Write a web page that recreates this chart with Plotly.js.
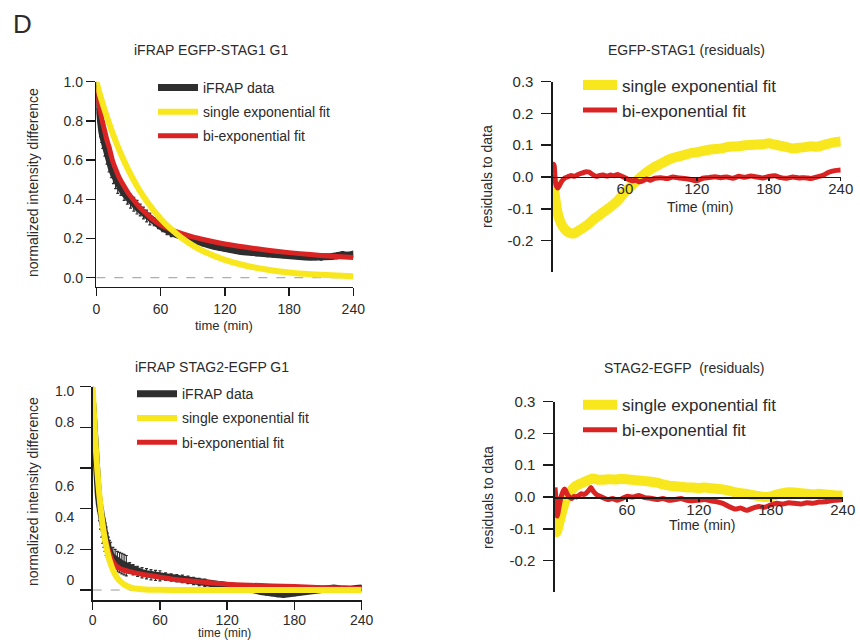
<!DOCTYPE html>
<html>
<head>
<meta charset="utf-8">
<script src="https://cdn.plot.ly/plotly-3.0.1.min.js"></script>
<style>html,body{margin:0;padding:0;background:#fff;}#chart{width:860px;height:642px;}</style>
</head>
<body>
<div id="chart"></div>
<script>
// ---------- Panel A: iFRAP EGFP-STAG1 G1 ----------
var s1DataT = [0,1,2,3,4,5,6, 8,10,12,14,16,18,20, 23,26,29,32,35,38,41,44,47,50, 54,58,62,66,70,
  75,80,85,90,95,100,105,110,115,120,125,130,135,140,145,150,155,160,165,170,175,180,185,190,195,200,205,210,215,220,225,230,235,240];
var s1DataY = [0.98,0.92,0.86,0.82,0.78,0.75,0.72, 0.67,0.63,0.59,0.56,0.53,0.505,0.48,
  0.455,0.43,0.41,0.39,0.375,0.36,0.345,0.33,0.315,0.30, 0.285,0.27,0.255,0.24,0.23,
  0.22,0.21,0.20,
  0.19,0.182,0.174,0.167,0.16,0.153,0.147,0.142,0.138,0.134,0.131,0.128,0.125,0.123,0.12,0.118,0.116,0.114,0.112,0.11,0.108,0.106,0.105,
  0.104,0.102,0.105,0.108,0.112,0.118,0.114,0.12];
var s1DataErr = [0.06,0.06,0.06,0.06,0.06,0.06,0.06, 0.05,0.05,0.05,0.05,0.05,0.05,0.05,
  0.035,0.035,0.035,0.035,0.035,0.035,0.03,0.03,0.03,0.03, 0.02,0.02,0.02,0.02,0.02,
  0.012,0.012,0.012,0.012,0.012,0.012,0.012,0.012,0.012,0.012,0.012,0.012,0.012,0.012,0.012,
  0.012,0.012,0.012,0.012,0.012,0.012,0.012,0.012,0.012,0.012,0.012,0.012,0.012,0.012,0.012,
  0.015,0.015,0.015,0.015];
var s1SingleT = [0,5,10,15,20,25,30,40,50,60,70,80,90,100,120,140,160,180,200,220,240];
var s1SingleY = [1.0,0.905,0.819,0.741,0.670,0.607,0.549,0.449,0.368,0.301,0.247,0.202,0.165,0.135,0.091,0.061,0.041,0.027,0.018,0.012,0.008];
var s1BiT = [0,2,4,6,8,10,12,15,18,21,25,30,35,40,45,50,60,70,80,90,100,120,140,160,180,200,220,240];
var s1BiY = [0.97,0.9,0.84,0.79,0.745,0.70,0.665,0.60,0.555,0.515,0.475,0.43,0.395,0.362,0.335,0.31,0.27,0.245,0.225,0.208,0.195,0.172,0.155,0.14,0.128,0.118,0.11,0.103];

// ---------- Panel B: EGFP-STAG1 residuals ----------
var r1SingleT = [0,1,2,3,4, 6,8,10,12,14,16,18,20, 23,26,29,32,35,38,41,44,47,50,53,56,59,62,65,68,71,74,77,80,
  84,88,92,96,100, 105,110,115,120,125,130,135,140,145,150,155,160,165,170,175,180,185,190,195,200,205,210,215,220,225,230,235,240];
var r1SingleY = [0.0,-0.04,-0.07,-0.095,-0.115, -0.14,-0.155,-0.165,-0.172,-0.176,-0.178,-0.177,-0.172,
  -0.165,-0.158,-0.15,-0.14,-0.13,-0.122,-0.113,-0.105,-0.097,-0.088,-0.078,-0.066,-0.052,-0.04,-0.03,-0.018,-0.008,0.002,0.012,0.02,
  0.03,0.038,0.046,0.054,0.06,
  0.065,0.07,0.075,0.078,0.082,0.086,0.088,0.09,0.094,0.096,0.097,0.1,0.101,0.102,0.103,0.106,0.102,0.098,0.094,0.09,0.092,0.094,0.097,0.095,0.1,0.105,0.11,0.112];
var r1BiT = [0,0.5,1,1.5,2,3,4,5,6, 8,10,12, 15,18,21,24,27,30,33,36,39,42,45,48,51,54,57,60,63,66,69,72,75,78,81, 85,
  90,95,100,105,110,115,120,125,130,135,140,145,150,155,160,165,170,175,180,185,190,195,200,205,210,215,220,225,230,235,240];
var r1BiY = [0.01,0.04,0.035,0.01,-0.015,-0.03,-0.035,-0.03,-0.022, -0.01,-0.003,0.0,
  0.005,0.002,0.008,0.012,0.016,0.015,0.008,0.002,0.005,0.006,0.003,0.006,0.004,0.008,0.003,-0.002,-0.008,-0.012,-0.01,-0.015,-0.012,-0.006,-0.01, -0.004,
  -0.002,-0.005,0.0,-0.003,-0.005,-0.008,-0.012,-0.004,-0.002,0.001,-0.002,0.0,-0.004,0.002,-0.001,0.003,0.0,-0.003,0.002,0.004,-0.002,-0.004,0.0,-0.003,-0.002,-0.005,0.0,0.005,0.015,0.02,0.022];

// ---------- Panel C: iFRAP STAG2-EGFP G1 ----------
var s2DataT = [0,1,2,3,4,5,6,7,8,9,10,11,12,13,14,15,16, 18,20,22,24,26,28,30, 33,36,40,44,48,52,56,60,
  65,70,75,80,85,90,95,100, 105,110,115,120,125,130,135,140,145,150,155,160,165,170,175,180,185,190,195,200,205,210,215,220,225,230,235,240];
var s2DataY = [0.92,0.8,0.7,0.6,0.53,0.47,0.42,0.38,0.34,0.31,0.28,0.26,0.24,0.22,0.2,0.185,0.175,
  0.16,0.15,0.14,0.135,0.13,0.125,0.12, 0.11,0.1,0.092,0.085,0.08,0.075,0.072,0.07,
  0.066,0.062,0.058,0.055,0.05,0.045,0.04,0.036,
  0.032,0.03,0.028,0.025,0.022,0.018,0.012,0.006,0.0,-0.008,-0.012,-0.015,-0.02,-0.022,-0.018,-0.015,-0.01,-0.005,0.0,0.002,0.005,0.008,0.01,0.006,0.002,0.004,0.008,0.01];
var s2DataErr = [0.08,0.08,0.08,0.08,0.08,0.08,0.08,0.08,0.08,0.08,0.07,0.07,0.07,0.06,0.06,0.06,0.06,
  0.05,0.05,0.05,0.05,0.05,0.05,0.05, 0.025,0.025,0.025,0.025,0.025,0.025,0.025,0.025,
  0.018,0.018,0.018,0.018,0.018,0.018,0.018,0.018,
  0.012,0.012,0.012,0.012,0.012,0.012,0.012,0.012,0.012,0.012,0.012,0.012,0.012,0.012,0.012,0.012,0.012,0.012,0.012,0.012,0.012,0.012,0.012,0.012,0.012,0.012,0.012,0.012];
var s2SingleT = [0,1,2,3,4,5,6,7,8,9,10,12,14,16,18,20,23,26,30,35,40,50,60,80,100,120,140,160,180,200,220,240];
var s2SingleY = [1.0,0.88,0.774,0.68,0.599,0.527,0.463,0.408,0.359,0.315,0.277,0.215,0.166,0.129,0.099,0.077,0.052,0.036,0.021,0.011,0.006,0.002,0.001,0,0,0,0,0,0,0,0,0];
var s2BiT = [0,1,2,3,4,5,6,7,8,9,10,12,14,16,18,20,23,26,30,35,40,50,60,70,80,100,120,140,160,180,200,220,240];
var s2BiY = [0.98,0.87,0.76,0.67,0.59,0.52,0.46,0.41,0.365,0.325,0.29,0.235,0.195,0.165,0.14,0.125,0.11,0.102,0.095,0.088,0.082,0.072,0.063,0.055,0.048,0.038,0.029,0.024,0.02,0.017,0.013,0.01,0.008];

// ---------- Panel D: STAG2-EGFP residuals ----------
var r2SingleT = [0,0.5,1,1.5,2, 3,4,5,6,7,8, 10,12,14,16,18,20, 23,26,29,32,35,
  40,45,50,55,60,65,70,75,80,85,90,95,100,105,110,115,120,125,130,135,140,145,150,155,160,165,170,175,180,185,190,195,200,205,210,215,220,225,230,235,240];
var r2SingleY = [0.0,-0.05,-0.09,-0.11,-0.105, -0.09,-0.075,-0.06,-0.045,-0.032,-0.02, 0.0,0.012,0.022,0.03,0.036,0.04, 0.045,0.05,0.055,0.058,0.055,
  0.054,0.056,0.055,0.057,0.056,0.054,0.052,0.05,0.048,0.045,0.04,0.036,0.034,0.032,0.03,0.03,0.028,0.03,0.028,0.026,0.024,0.02,0.015,0.012,0.01,0.006,0.003,0.0,0.002,0.008,0.012,0.015,0.014,0.012,0.01,0.008,0.01,0.008,0.006,0.005,0.005];
var r2BiT = [0,0.5,1,1.5,2, 3,4,5,6,7,8,9,10, 12,14,16,18,20,22,24,26,28,30,32,34,36, 40,44,48,52,56,60,
  65,70,75,80,85,90,95,100,105,110,115,120,125,130,135,140,145,150,155,160,165,170,175,180,185,190,195,200,205,210,215,220,225,230,235,240];
var r2BiY = [0.03,0.01,-0.03,-0.055,-0.06, -0.04,-0.02,0.0,0.01,0.02,0.025,0.02,0.01,
  0.0,-0.005,0.002,0.0,0.005,0.01,0.008,0.012,0.02,0.03,0.018,0.01,0.005, -0.002,-0.008,-0.005,-0.01,-0.005,0.002,
  0.0,0.005,-0.002,-0.004,-0.008,-0.005,-0.01,-0.008,-0.005,-0.01,-0.012,-0.01,-0.008,-0.012,-0.015,-0.02,-0.03,-0.038,-0.035,-0.042,-0.035,-0.03,-0.032,-0.025,-0.02,-0.022,-0.018,-0.02,-0.022,-0.018,-0.02,-0.016,-0.015,-0.012,-0.01,-0.008];

// ---------- ticks & labels ----------
var timeTicks = [0,60,120,180,240];
var residTimeTicks = [60,120,180,240];
var normTicks = [0,0.2,0.4,0.6,0.8,1.0];
var normTickText = ['0.0','0.2','0.4','0.6','0.8','1.0'];
var stag2LabelPos = [0.979,0.828,0.513,0.36,0.202,0.049];
var stag2LabelText = ['1.0','0.8','0.6','0.4','0.2','0'];
var residTicks = [-0.2,-0.1,0.0,0.1,0.2,0.3];
var residTickText = ['-0.2','-0.1','0.0','0.1','0.2','0.3'];
var legendNames = ['iFRAP data','single exponential fit','bi-exponential fit'];

// ---------- styles ----------
var FONT = 'Liberation Sans, Arial, Helvetica, sans-serif';
var TXT = '#2b2b2b';
var BLACK = '#2e2e2e', YELLOW = '#f8e71c', RED = '#da2424';

function dataTrace(x, y, err, xa, ya, lg) {
  return {x:x, y:y, xaxis:xa, yaxis:ya, type:'scatter', mode:'lines', name:legendNames[0],
    legend:lg, legendgroup:lg + '-data', legendrank:1, line:{color:BLACK, width:7},
    error_y:{type:'data', array:err, visible:true, color:BLACK, thickness:1.2, width:1.5}};
}
function fitTrace(x, y, name, color, w, xa, ya, lg, rank) {
  return {x:x, y:y, xaxis:xa, yaxis:ya, type:'scatter', mode:'lines', name:name,
    legend:lg, legendgroup:lg + '-' + rank, legendrank:rank, line:{color:color, width:w, shape:'spline', smoothing:0.6}};
}

var traces = [
  dataTrace(s1DataT, s1DataY, s1DataErr, 'x', 'y', 'legend'),
  fitTrace(s1BiT, s1BiY, legendNames[2], RED, 5, 'x', 'y', 'legend', 3),
  fitTrace(s1SingleT, s1SingleY, legendNames[1], YELLOW, 6, 'x', 'y', 'legend', 2),

  fitTrace(r1SingleT, r1SingleY, legendNames[1], YELLOW, 10, 'x2', 'y2', 'legend2', 1),
  fitTrace(r1BiT, r1BiY, legendNames[2], RED, 5, 'x2', 'y2', 'legend2', 2),

  dataTrace(s2DataT, s2DataY, s2DataErr, 'x3', 'y3', 'legend3'),
  fitTrace(s2BiT, s2BiY, legendNames[2], RED, 5, 'x3', 'y3', 'legend3', 3),
  fitTrace(s2SingleT, s2SingleY, legendNames[1], YELLOW, 6, 'x3', 'y3', 'legend3', 2),

  fitTrace(r2SingleT, r2SingleY, legendNames[1], YELLOW, 10, 'x4', 'y4', 'legend4', 1),
  fitTrace(r2BiT, r2BiY, legendNames[2], RED, 5, 'x4', 'y4', 'legend4', 2)
];

var axBase = {showgrid:false, zeroline:false, showline:true, linecolor:'#1a1a1a', linewidth:1.5,
  ticks:'outside', tickcolor:'#1a1a1a', tickwidth:1.5, layer:'above traces', fixedrange:true,
  tickfont:{family:FONT, size:14, color:TXT}};
function ax(o) { var r = {}; for (var k in axBase) r[k] = axBase[k]; for (var k2 in o) r[k2] = o[k2]; return r; }

function ann(text, x, y, size, rot) {
  return {text:text, x:x, y:y, xref:'paper', yref:'paper', showarrow:false, textangle:rot||0,
    xanchor:'center', yanchor:'middle', font:{family:FONT, size:size, color:TXT}};
}
function leg(x, y, size, iw, gap) {
  return {x:x, y:y, xanchor:'left', yanchor:'top', bgcolor:'rgba(0,0,0,0)', itemwidth:iw,
    tracegroupgap:gap, traceorder:'grouped', font:{family:FONT, size:size, color:TXT}};
}
var residTickFont = {family:FONT, size:15, color:TXT};

var layout = {
  width:860, height:642, margin:{l:0, r:0, t:0, b:0}, paper_bgcolor:'#fff', plot_bgcolor:'rgba(0,0,0,0)',
  showlegend:true,
  xaxis: ax({domain:[0.1120,0.4108], anchor:'y', range:[0,240], tickvals:timeTicks, ticklen:8, ticklabelstandoff:1}),
  yaxis: ax({domain:[0.5534,0.8727], anchor:'x', range:[-0.046,1.0], tickvals:normTicks, ticktext:normTickText, ticklen:9}),
  xaxis2: ax({domain:[0.6430,0.9776], anchor:'free', position:0.7243, range:[0,240], tickvals:residTimeTicks, ticklen:3, ticklabelstandoff:-5, tickfont:residTickFont}),
  yaxis2: ax({domain:[0.5759,0.8727], anchor:'x2', range:[-0.3,0.3], tickvals:residTicks, ticktext:residTickText, ticklen:10, ticklabelstandoff:5, tickfont:residTickFont}),
  xaxis3: ax({domain:[0.1078,0.4206], anchor:'y3', range:[0,240], tickvals:timeTicks, ticklen:8, ticklabelstandoff:-1}),
  yaxis3: ax({domain:[0.0654,0.3977], anchor:'x3', range:[-0.049,1.0],
    tickvals:stag2LabelPos, ticktext:stag2LabelText, ticklen:11, tickcolor:'rgba(0,0,0,0)', ticklabelstandoff:3,
    minor:{tickvals:normTicks, ticks:'outside', ticklen:11, tickwidth:1.5, tickcolor:'#1a1a1a', showgrid:false}}),
  xaxis4: ax({domain:[0.6453,0.9799], anchor:'free', position:0.22585, range:[0,240], tickvals:residTimeTicks, ticklen:3, ticklabelstandoff:-5, tickfont:residTickFont}),
  yaxis4: ax({domain:[0.0774,0.3743], anchor:'x4', range:[-0.3,0.3], tickvals:residTicks, ticktext:residTickText, ticklen:10, ticklabelstandoff:5, tickfont:residTickFont}),
  legend: leg(0.1779, 0.8881, 14, 40, 3),
  legend2: leg(0.6721, 0.8950, 17, 34, 0),
  legend3: leg(0.1535, 0.4110, 14, 40, 3),
  legend4: leg(0.6721, 0.3970, 17, 34, 0),
  shapes: [
    {type:'line', xref:'x', yref:'y', x0:0, x1:240, y0:0, y1:0, layer:'below', line:{color:'#9a9a9a', width:1, dash:'dash'}},
    {type:'line', xref:'x3', yref:'y3', x0:0, x1:240, y0:0, y1:0, layer:'below', line:{color:'#9a9a9a', width:1, dash:'dash'}}
  ],
  annotations: [
    ann('D', 0.0256, 0.9626, 26),
    ann('iFRAP EGFP-STAG1 G1', 0.2465, 0.9221, 14),
    ann('time (min)', 0.2605, 0.4930, 13),
    ann('normalized intensity difference', 0.0384, 0.7150, 14, -90),
    ann('EGFP-STAG1 (residuals)', 0.7977, 0.9221, 14),
    ann('Time (min)', 0.8140, 0.6780, 14),
    ann('residuals to data', 0.5663, 0.7243, 14, -90),
    ann('iFRAP STAG2-EGFP G1', 0.2462, 0.4283, 14),
    ann('time (min)', 0.2605, 0.0140, 12),
    ann('normalized intensity difference', 0.0384, 0.2336, 14, -90),
    ann('STAG2-EGFP  (residuals)', 0.7965, 0.4268, 14),
    ann('Time (min)', 0.8163, 0.1822, 14),
    ann('residuals to data', 0.5674, 0.2259, 14, -90)
  ]
};

Plotly.newPlot('chart', traces, layout, {displayModeBar:false, staticPlot:true});
</script>
</body>
</html>
